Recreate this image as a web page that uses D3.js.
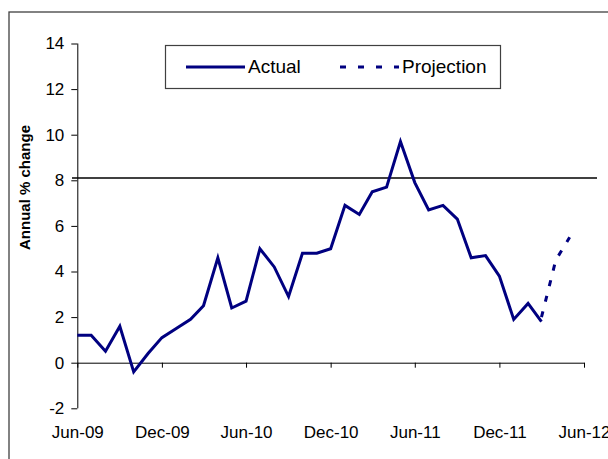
<!DOCTYPE html>
<html>
<head>
<meta charset="utf-8">
<script src="https://cdn.jsdelivr.net/npm/d3@7"></script>
<style>
    body { margin: 0; background: #fff; }
    svg { display: block; font-family: "Liberation Sans", Arial, sans-serif; }
    .axis path, .axis line { stroke: #000; }
    .axis text { font-size: 17px; fill: #000; }
</style>
</head>
<body>
<svg id="chart" width="608" height="459"></svg>
<script>
// monthly annual % change, Jun-09 .. Mar-12
var months = ['2009-06', '2009-07', '2009-08', '2009-09', '2009-10', '2009-11', '2009-12',
    '2010-01', '2010-02', '2010-03', '2010-04', '2010-05', '2010-06', '2010-07', '2010-08',
    '2010-09', '2010-10', '2010-11', '2010-12', '2011-01', '2011-02', '2011-03', '2011-04',
    '2011-05', '2011-06', '2011-07', '2011-08', '2011-09', '2011-10', '2011-11', '2011-12',
    '2012-01', '2012-02', '2012-03'];
var actual = [1.2, 1.2, 0.5, 1.6, -0.4, 0.4, 1.1,
    1.5, 1.9, 2.5, 4.6, 2.4, 2.7, 5.0, 4.2,
    2.9, 4.8, 4.8, 5.0, 6.9, 6.5, 7.5, 7.7,
    9.7, 7.9, 6.7, 6.9, 6.3, 4.6, 4.7, 3.8,
    1.9, 2.6, 1.8];
var proj_months = ['2012-03', '2012-04', '2012-05'];
var projection = [2.0, 4.5, 5.5];
var ref_level = 8.1;
var x_ticks = ['2009-06', '2009-12', '2010-06', '2010-12', '2011-06', '2011-12', '2012-06'];
var y_ticks = [-2, 0, 2, 4, 6, 8, 10, 12, 14];
var series_names = ['Actual', 'Projection'];

var navy = '#000080';
var parse = d3.timeParse('%Y-%m');
var fmt = d3.timeFormat('%b-%y');

var svg = d3.select('#chart');

// outer chart border (runs past the right/bottom edge)
svg.append('rect')
    .attr('x', 9).attr('y', 12)
    .attr('width', 640).attr('height', 480)
    .attr('fill', 'none')
    .attr('stroke', '#404040')
    .attr('stroke-width', 1.3);

var x = d3.scaleTime()
    .domain([parse('2009-06'), parse('2012-06')])
    .range([77.3, 584]);

var y = d3.scaleLinear()
    .domain([-2, 14])
    .range([408.3, 43.5]);

var actualData = months.map(function (m, i) {
    return {date: parse(m), value: actual[i]};
});
var projData = proj_months.map(function (m, i) {
    return {date: parse(m), value: projection[i]};
});

// y axis
var yAxis = svg.append('g')
    .attr('class', 'axis')
    .attr('transform', 'translate(77.3,0)')
    .call(d3.axisLeft(y).tickValues(y_ticks)
        .tickFormat(function (d) { return String(d); })
        .tickSize(6).tickPadding(7).tickSizeOuter(0));
yAxis.select('.domain').attr('d', 'M0.5,' + y(14) + 'V' + y(-2));

// x axis at zero
var xAxis = svg.append('g')
    .attr('class', 'axis')
    .attr('transform', 'translate(0,' + y(0) + ')')
    .call(d3.axisBottom(x).tickValues(x_ticks.map(parse)).tickFormat(fmt)
        .tickSize(5).tickSizeOuter(0));
xAxis.selectAll('text')
    .attr('y', 0)
    .attr('dy', 0)
    .attr('transform', 'translate(0,' + (438 - y(0)) + ')');

// horizontal reference line
svg.append('line')
    .attr('x1', 72).attr('x2', 597)
    .attr('y1', y(ref_level)).attr('y2', y(ref_level))
    .attr('stroke', '#000')
    .attr('stroke-width', 1.3);

var line = d3.line()
    .x(function (d) { return x(d.date); })
    .y(function (d) { return y(d.value); });

svg.append('path')
    .datum(actualData)
    .attr('d', line)
    .attr('fill', 'none')
    .attr('stroke', navy)
    .attr('stroke-width', 3)
    .attr('stroke-linejoin', 'miter');

svg.append('path')
    .datum(projData)
    .attr('d', line)
    .attr('fill', 'none')
    .attr('stroke', navy)
    .attr('stroke-width', 3)
    .attr('stroke-dasharray', '6,10');

// y title
svg.append('text')
    .attr('transform', 'translate(30,187.5) rotate(-90)')
    .attr('text-anchor', 'middle')
    .style('font-size', '15px')
    .style('font-weight', 'bold')
    .text('Annual % change');

// legend
var lg = svg.append('g');
lg.append('rect')
    .attr('x', 165.5).attr('y', 45.5)
    .attr('width', 335).attr('height', 43)
    .attr('fill', '#fff')
    .attr('stroke', '#404040')
    .attr('stroke-width', 1.2);

var items = lg.selectAll('.legend')
    .data(series_names)
    .enter()
    .append('g')
    .attr('class', 'legend')
    .attr('transform', function (d, i) {
        return 'translate(' + (i === 0 ? 186 : 340) + ',67)';
    });

items.append('line')
    .attr('x1', 0).attr('x2', 59)
    .attr('y1', 0).attr('y2', 0)
    .attr('stroke', navy)
    .attr('stroke-width', 3)
    .attr('stroke-dasharray', function (d, i) { return i === 0 ? null : '6,12'; });

items.append('text')
    .attr('x', 62)
    .attr('y', 6)
    .style('font-size', '19px')
    .text(function (d) { return d; });
</script>
</body>
</html>
